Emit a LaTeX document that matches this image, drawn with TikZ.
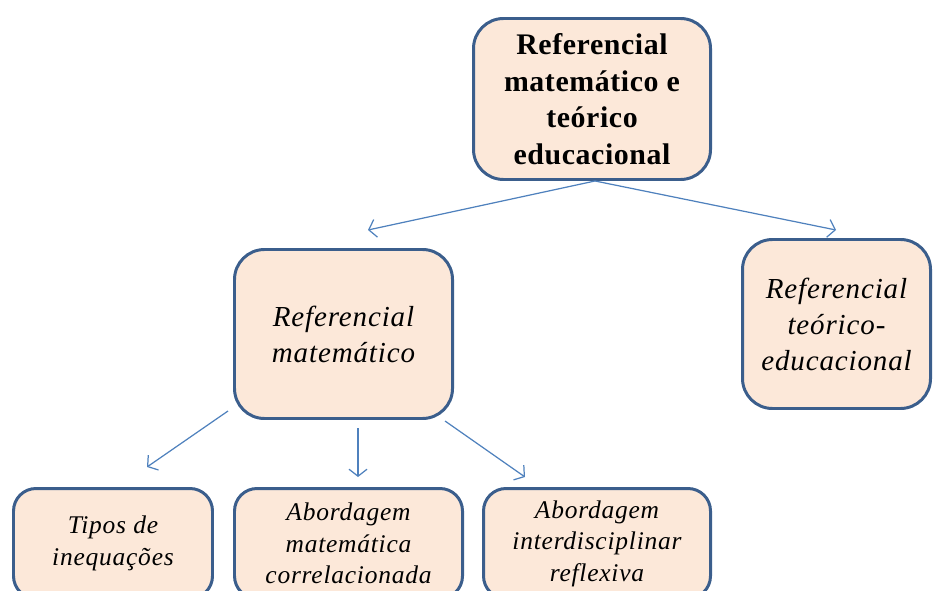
\documentclass[tikz,border=0pt]{standalone}
\usepackage{fontspec}
\setmainfont{Liberation Serif}
\usepackage{tikz}
\usetikzlibrary{
    arrows.meta,
    positioning
}
\usepackage{xcolor}
\definecolor{boxfill}{HTML}{FCE8D9}
\definecolor{boxline}{HTML}{3B5E8C}
\definecolor{linkblue}{HTML}{4F81BD}
\tikzstyle{topbox} = [
    rectangle,
    rounded corners=0.6cm,
    draw=boxline,
    line width=1.7pt,
    fill=boxfill,
    align=center,
    font=\fontsize{17}{20.8}\selectfont\bfseries\addfontfeatures{LetterSpace=2}
]
\tikzstyle{midbox} = [
    rectangle,
    rounded corners=0.6cm,
    draw=boxline,
    line width=1.7pt,
    fill=boxfill,
    align=center,
    font=\fontsize{16.5}{20.5}\selectfont\itshape\addfontfeatures{LetterSpace=3}
]
\tikzstyle{leafbox} = [
    rectangle,
    rounded corners=0.45cm,
    draw=boxline,
    line width=1.7pt,
    fill=boxfill,
    align=center,
    font=\fontsize{14.5}{18}\selectfont\itshape\addfontfeatures{LetterSpace=3}
]
\tikzstyle{link} = [
    -{Straight Barb[length=1.4mm,width=3.6mm]},
    line width=0.7pt,
    draw=linkblue
]
\begin{document}
\begin{tikzpicture}
        \useasboundingbox (0, 0) rectangle (18.66, 11.8);

        % Top
        \node[topbox, minimum width=4.74cm, minimum height=3.22cm] (top) at (11.84, 9.82) {Referencial\\matemático e\\teórico\\educacional};

        % Second level
        \node[midbox, minimum width=4.36cm, minimum height=3.38cm] (mat) at (6.87, 5.12) {Referencial\\matemático};
        \node[midbox, minimum width=3.76cm, minimum height=3.38cm] (edu) at (16.73, 5.32) {Referencial\\teórico-\\educacional};

        % Leaves - cut by the page bottom
        \node[leafbox, minimum width=3.98cm, minimum height=2.2cm] (tipos) at (2.26, 0.93) {Tipos de\\inequações};
        \node[leafbox, minimum width=4.56cm, minimum height=2.2cm] (corr) at (6.97, 0.93) {Abordagem\\matemática\\correlacionada};
        \node[leafbox, minimum width=4.54cm, minimum height=2.2cm] (refl) at (11.94, 0.93) {Abordagem\\interdisciplinar\\reflexiva};

        % Arrow ends
        \coordinate (matin) at (7.36, 7.2);
        \coordinate (eduin) at (16.72, 7.2);
        \coordinate (tiposfrom) at (4.56, 3.58);
        \coordinate (tiposin) at (2.94, 2.46);
        \coordinate (corrfrom) at (7.16, 3.24);
        \coordinate (corrin) at (7.16, 2.26);
        \coordinate (reflfrom) at (8.9, 3.38);
        \coordinate (reflin) at (10.5, 2.26);

        % Arrows
        \draw[link] ([xshift=0.06cm]top.south) -- (matin);
        \draw[link] ([xshift=0.06cm]top.south) -- (eduin);
        \draw[link] (tiposfrom) -- (tiposin);
        \draw[link] (corrfrom) -- (corrin);
        \draw[link] (reflfrom) -- (reflin);
    \end{tikzpicture}
\end{document}
